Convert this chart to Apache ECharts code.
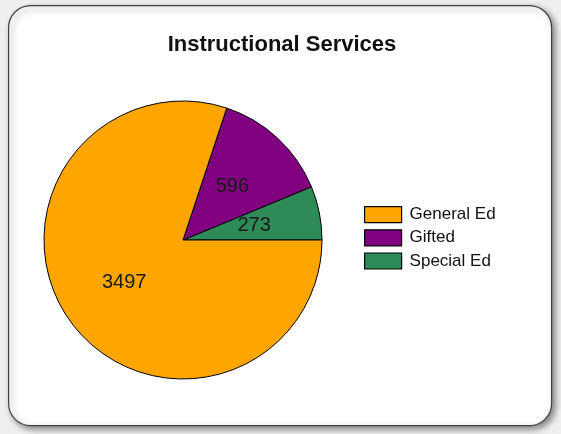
<!DOCTYPE html>
<html><head><meta charset="utf-8">
<script src="https://cdn.jsdelivr.net/npm/echarts@6/dist/echarts.min.js"></script>
<style>html,body{margin:0;padding:0;background:#efefef;}#c{width:561px;height:434px;}</style>
</head><body><div id="c"></div>
<script>
const categories = ['Special Ed', 'Gifted', 'General Ed'];
const values = [273, 596, 3497];
const legendOrder = ['General Ed', 'Gifted', 'Special Ed'];
const colors = {'General Ed': '#FFA500', 'Gifted': '#800080', 'Special Ed': '#2E8B57'};

const chart = echarts.init(document.getElementById('c'), null, {renderer: 'canvas'});
chart.setOption({
  backgroundColor: '#efefef',
  animation: false,
  graphic: [{
    type: 'rect', left: 8, top: 5, z: -10,
    shape: {width: 543, height: 420, r: 22},
    style: {fill: '#ffffff', stroke: '#404040', lineWidth: 1.2,
      shadowBlur: 6, shadowOffsetX: 3, shadowOffsetY: 3, shadowColor: 'rgba(0,0,0,0.45)'}
  }],
  title: {
    text: 'Instructional Services', left: 282, top: 34, textAlign: 'center', padding: 0,
    textStyle: {fontFamily: 'Liberation Sans, Arial', fontSize: 22, fontWeight: 'bold', color: '#111'}
  },
  legend: {
    data: legendOrder, orient: 'vertical', left: 364, top: 206, padding: 0,
    itemWidth: 37, itemHeight: 16, itemGap: 6, icon: 'rect',
    textStyle: {fontFamily: 'Liberation Sans, Arial', fontSize: 17, color: '#111', padding: [0,0,0,3]},
    itemStyle: {borderColor: '#000', borderWidth: 1.2}
  },
  series: [{
    type: 'pie', center: [183, 240], radius: 139,
    startAngle: 0, clockwise: false,
    data: categories.map((n, i) => ({name: n, value: values[i], itemStyle: {color: colors[n]}})),
    itemStyle: {borderColor: '#000', borderWidth: 1},
    label: {show: true, position: 'inside', formatter: '{c}',
      fontFamily: 'Liberation Sans, Arial', fontSize: 20, color: '#1a1a1a'},
    labelLine: {show: false},
    emphasis: {disabled: true}
  }]
});
</script></body></html>
